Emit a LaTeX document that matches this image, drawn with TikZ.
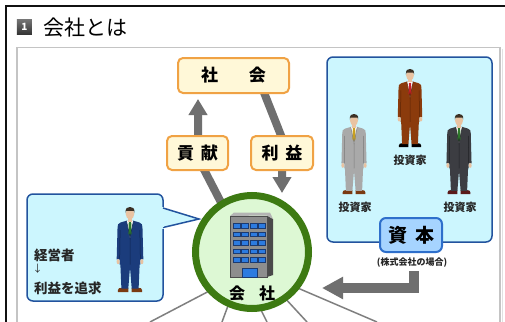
\documentclass[tikz,border=0pt]{standalone}
\usepackage{fontspec}
\setmainfont{Noto Sans CJK JP}
\usetikzlibrary{arrows.meta}

\definecolor{frameblack}{HTML}{111111}
\definecolor{panelgrey}{HTML}{C4C4C4}
\definecolor{arrowgrey}{HTML}{6F6F6F}
\definecolor{spokegrey}{HTML}{7F7F7F}
\definecolor{orangeedge}{HTML}{F0A244}
\definecolor{creamfill}{HTML}{FFF8D8}
\definecolor{ringgreen}{HTML}{3D7A12}
\definecolor{discgreen}{HTML}{DDF8D4}
\definecolor{cyanfill}{HTML}{CCF6FE}
\definecolor{navyedge}{HTML}{22539E}
\definecolor{capfill}{HTML}{A6D4FF}
\definecolor{capedge}{HTML}{2E6FCB}
\definecolor{skin}{HTML}{E9C3A2}
\definecolor{hair}{HTML}{3B3024}
\definecolor{navysuit}{HTML}{1B3C7C}
\definecolor{navyshade}{HTML}{0F2550}
\definecolor{brownsuit}{HTML}{8B3B0C}
\definecolor{brownshade}{HTML}{5C2405}
\definecolor{greysuit}{HTML}{A9A9A9}
\definecolor{greyshade}{HTML}{7A7A7A}
\definecolor{darksuit}{HTML}{3C3D42}
\definecolor{darkshade}{HTML}{1F2024}
\definecolor{tiegreen}{HTML}{2E7A2A}
\definecolor{tiered}{HTML}{C8202A}
\definecolor{tiegold}{HTML}{C8A020}
\definecolor{shoebrown}{HTML}{7A3A12}
\definecolor{shoemaroon}{HTML}{5A1A1A}
\definecolor{bldgfront}{HTML}{8E8E8E}
\definecolor{bldgside}{HTML}{4A4A4A}
\definecolor{bldgtop}{HTML}{B4B4B4}
\definecolor{windowblue}{HTML}{2C7BE0}
\definecolor{windowedge}{HTML}{1B3A70}

\tikzset{
  orangebox/.style={draw=orangeedge, line width=2pt, fill=creamfill,
    rounded corners=5pt, inner sep=0pt, font=\bfseries\fontsize{17}{17}\selectfont},
  thickarrow/.style={draw=arrowgrey, line width=8pt, line join=miter,
    -{Triangle[width=18pt,length=16pt]}},
  spoke/.style={draw=spokegrey, line width=1.5pt},
  labeltext/.style={inner sep=0pt, text=black!85, font=\bfseries\fontsize{11}{11}\selectfont},
  % a standing businessman, drawn top-down with the head top at the origin
  pics/suitman/.style n args={4}{code={
    % shoes
    \fill[#3] (-14,99) -- (-14,96.5) .. controls (-14,94.5) and (-12,94) .. (-10,94) -- (-2,94) -- (-2,99) -- cycle;
    \fill[#3] (14,99) -- (14,96.5) .. controls (14,94.5) and (12,94) .. (10,94) -- (2,94) -- (2,99) -- cycle;
    % trousers
    \fill[#1] (-11.5,60) -- (11.5,60) -- (10,95) -- (2,95) -- (0,70) -- (-2,95) -- (-10,95) -- cycle;
    % jacket with sleeves
    \fill[#1] (-4,16) -- (-11,18) .. controls (-14,18.8) and (-14.5,21) .. (-14.5,24)
      -- (-15.5,61) -- (-12,61) -- (-12,67) -- (12,67) -- (12,61) -- (15.5,61)
      -- (14.5,24) .. controls (14.5,21) and (14,18.8) .. (11,18) -- (4,16) -- cycle;
    \draw[#4, line width=0.5pt] (-11.5,27) -- (-12,61) (11.5,27) -- (12,61) (0,36) -- (0,67);
    % hands
    \fill[skin] (-13.8,63.5) ellipse (1.8 and 3);
    \fill[skin] (13.8,63.5) ellipse (1.8 and 3);
    % shirt, tie and lapels
    \fill[white] (-4,16) -- (4,16) -- (0,36) -- cycle;
    \fill[#2] (-1.4,17.5) -- (1.4,17.5) -- (2,31) -- (0,34) -- (-2,31) -- cycle;
    \draw[#4, line width=0.5pt] (-4,16) -- (0,36) -- (4,16);
    % neck, head and hair
    \fill[skin] (-2.6,11) rectangle (2.6,17);
    \fill[skin] (0,8) ellipse (5 and 6.5);
    \fill[hair] (-5.2,7) .. controls (-5.5,1) and (-3,0) .. (0,0)
      .. controls (3,0) and (5.5,1) .. (5.2,7) -- (4.3,4.5) -- (-4.3,4.5) -- cycle;
  }}
}

\begin{document}
\begin{tikzpicture}[x=1pt, y=-1pt]
\useasboundingbox (0,0) rectangle (505,321);
\clip (0,0) rectangle (505,321);
\fill[white] (0,0) rectangle (505,321);

% outer frame and panel
\draw[frameblack, line width=2pt] (6,330) -- (6,6) -- (510,6);
\draw[panelgrey, line width=1.5pt] (17,330) -- (17,47.5) -- (500,47.5) -- (500,330);
\draw[panelgrey!50, line width=1pt] (502.5,49) -- (502.5,330);

% heading
\node[minimum size=15pt, inner sep=0pt, top color=black!55, bottom color=black!80,
  text=white, font=\bfseries\fontsize{10}{10}\selectfont] (num) at (24.3,27.2) {1};
\node[anchor=west, inner sep=0pt, font=\fontsize{21}{21}\selectfont] (title) at (43,27.5) {会社とは};

% spokes leaving the company downwards
\coordinate (s1a) at (214,288.5);  \coordinate (s1b) at (150,322);
\coordinate (s2a) at (229,303);    \coordinate (s2b) at (222,322);
\coordinate (s3a) at (259,306);    \coordinate (s3b) at (267,322);
\coordinate (s4a) at (283,296);    \coordinate (s4b) at (307,322);
\coordinate (s5a) at (293,286);    \coordinate (s5b) at (377,322);
\foreach \i in {1,...,5} \draw[spoke] (s\i a) -- (s\i b);

% company disc
\coordinate (co) at (252,252);
\coordinate (koken) at (197.5,153);
\coordinate (rieki) at (282,153);

% thick grey flows
\draw[thickarrow] (226,212) -- (198,158) -- (198,99);
\draw[thickarrow] (261,85) -- (282,138) -- (282,193);
\draw[thickarrow, line width=10pt, -{Triangle[width=21pt,length=21pt]}] (414,271) -- (414,288) -- (322,288);

% society and the two flows
\node[orangebox, minimum width=111pt, minimum height=35pt] (shakai) at (233.5,75.5) {社\hspace{31pt}会};
\node[orangebox, minimum width=61pt, minimum height=34pt] (kokenbox) at (koken) {貢\hspace{7pt}献};
\node[orangebox, minimum width=62pt, minimum height=34pt] (riekibox) at (rieki) {利\hspace{7pt}益};

% manager bubble
\draw[navyedge, line width=1.5pt, fill=cyanfill, rounded corners=6pt]
  (163,227) -- (163,301) -- (27,301) -- (27,194) -- (163,194) -- (163,208);
\fill[cyanfill] (161,207) -- (161,228.5) -- (164,228.5) -- (164,207) -- cycle;
\draw[navyedge, line width=1.5pt, fill=cyanfill, line join=miter]
  (163,208) -- (199,219) -- (163,227.5);
\fill[cyanfill] (161.5,209) rectangle (164.2,226.5);
\node[labeltext, anchor=west, font=\bfseries\fontsize{13.5}{13.5}\selectfont] (keiei) at (34,255) {経営者};
\node[labeltext, anchor=west, font=\fontsize{10}{10}\selectfont] (down) at (32.5,268.5) {↓};
\node[labeltext, anchor=west, font=\bfseries\fontsize{13.5}{13.5}\selectfont] (tsuikyu) at (34,288) {利益を追求};
\pic[scale=0.86] at (130,207) {suitman={navysuit}{tiegreen}{shoebrown}{navyshade}};

% investors panel
\draw[navyedge, line width=1.5pt, fill=cyanfill, rounded corners=6pt] (327,57) rectangle (492,242);
\pic[scale=0.79] at (410,69) {suitman={brownsuit}{tiered}{black}{brownshade}};
\pic[scale=0.81] at (354,114) {suitman={greysuit}{tiegold}{shoebrown}{greyshade}};
\pic[scale=0.81] at (459,114) {suitman={darksuit}{tiegreen}{shoemaroon}{darkshade}};
\node[labeltext] (inv1) at (410,160) {投資家};
\node[labeltext] (inv2) at (355,207) {投資家};
\node[labeltext] (inv3) at (460,207) {投資家};
\node[draw=capedge, line width=2pt, fill=capfill, rounded corners=6pt, inner sep=0pt,
  minimum width=62pt, minimum height=34pt, font=\bfseries\fontsize{19}{19}\selectfont] (shihon) at (411,235) {資\hspace{8pt}本};
\node[labeltext, font=\bfseries\fontsize{9}{9}\selectfont] (kabu) at (412,263) {(株式会社の場合)};

% company
\node[circle, draw=ringgreen, line width=7pt, fill=discgreen, minimum size=113pt, inner sep=0pt] (kaisha) at (co) {};
% office building
\fill[bldgside] (267,215.5) -- (273,219) -- (273,275) -- (267,277) -- cycle;
\fill[bldgtop] (230,216) -- (234,212.5) -- (270,212.5) -- (273,219) -- (267,215.5) -- cycle;
\fill[bldgfront] (230,216) rectangle (267,277);
\draw[black!70, line width=0.5pt] (230,216) rectangle (267,277);
\foreach \wx in {233,241.5,250,258.5}
  \foreach \wy in {223.5,232,240.5,249,257.5}
    \draw[windowedge, fill=windowblue, line width=0.4pt] (\wx,\wy) rectangle ++(6.8,4.6);
\draw[windowedge, fill=windowblue, line width=0.4pt] (242,268.5) rectangle (257,277);
\node[inner sep=0pt, font=\bfseries\fontsize{16}{16}\selectfont] (kaishalabel) at (252,293) {会\hspace{14pt}社};
\end{tikzpicture}
\end{document}
